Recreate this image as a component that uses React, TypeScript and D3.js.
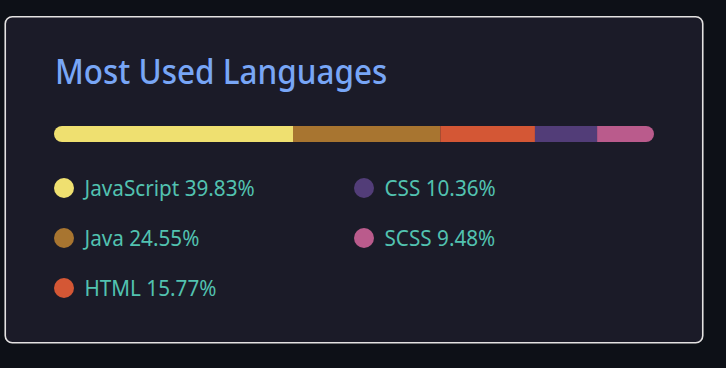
import React from "react";
import * as d3 from "d3";

const languages = ["JavaScript", "Java", "HTML", "CSS", "SCSS"];
const percents = [39.83, 24.55, 15.77, 10.36, 9.48];
const colors = ["#efe070", "#a87530", "#d45735", "#523d78", "#ba5b8c"];

const W = 726;
const H = 368;

export default function App() {
  const total = d3.sum(percents);
  const x = d3.scaleLinear().domain([0, total]).range([54, 654]);
  const cum = d3.cumsum(percents);
  const starts = percents.map((p, i) => cum[i] - p);
  const rows = 3;
  const rowY = d3.scaleLinear().domain([0, 1]).range([188, 238]);
  const colX = [64, 364];

  return (
    <svg
      width={W}
      height={H}
      style={{ position: "absolute", left: 0, top: 0, background: "#0d1017" }}
      fontFamily="'Noto Sans', sans-serif"
    >
      <rect x={0} y={0} width={W} height={H} fill="#0d1017" />
      <rect
        x={5.25}
        y={16.75}
        width={697.5}
        height={326}
        rx={7}
        fill="#1b1b28"
        stroke="#e4e2e2"
        strokeWidth={1.6}
      />
      <g transform="translate(55,83.5) scale(0.925,1)">
        <text x={0} y={0} fill="#78a6f6" fontSize={34} fontWeight={500}>
          Most Used Languages
        </text>
      </g>
      <defs>
        <clipPath id="barclip">
          <rect x={54} y={126} width={600} height={16} rx={8} />
        </clipPath>
      </defs>
      <g clipPath="url(#barclip)">
        {percents.map((p, i) => (
          <rect
            key={languages[i]}
            x={x(starts[i])}
            y={126}
            width={x(cum[i]) - x(starts[i])}
            height={16}
            fill={colors[i]}
          />
        ))}
      </g>
      {languages.map((lang, i) => {
        const col = Math.floor(i / rows);
        const row = i % rows;
        const cx = colX[col];
        const cy = rowY(row);
        return (
          <g key={lang}>
            <circle cx={cx} cy={cy} r={10} fill={colors[i]} />
            <g transform={`translate(${cx + 20.5},${cy + 7.5}) scale(0.963,1)`}>
              <text x={0} y={0} fill="#52c2b0" fontSize={21.5}>
                {lang} {percents[i].toFixed(2)}%
              </text>
            </g>
          </g>
        );
      })}
    </svg>
  );
}
